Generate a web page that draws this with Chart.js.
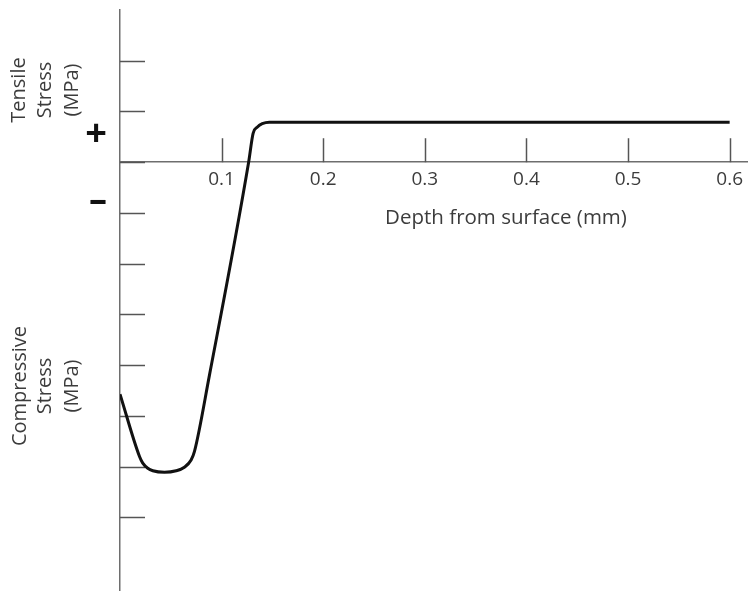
<!DOCTYPE html>
<html>
<head>
<meta charset="utf-8">
<script src="https://cdn.jsdelivr.net/npm/chart.js@4"></script>
<style>
  html, body { margin: 0; padding: 0; background: #fff; }
  #wrap { width: 749px; height: 592px; }
</style>
</head>
<body>
<div id="wrap"><canvas id="stressChart" width="749" height="592"></canvas></div>
<script>
// residual stress profile, depth in mm, stress in axis divisions
const depth = [0, 0.0192, 0.0224, 0.0273, 0.0323, 0.0438, 0.0553, 0.0634, 0.0700, 0.0733, 0.088, 0.1266, 0.131, 0.135, 0.140, 0.147, 0.60];
const stress = [-4.57, -5.80, -5.93, -6.03, -6.08, -6.11, -6.08, -6.01, -5.87, -5.70, -4.20, 0, 0.57, 0.69, 0.76, 0.79, 0.79];

const xTicks = [0.1, 0.2, 0.3, 0.4, 0.5, 0.6];
const yTicks = [2, 1, 0, -1, -2, -3, -4, -5, -6, -7];

const xTitle = 'Depth from surface (mm)';
const tensileTitle = ['Tensile', 'Stress', '(MPa)'];
const compressTitle = ['Compressive', 'Stress', '(MPa)'];

const FONT = '"Open Sans", "Noto Sans", sans-serif';
const TEXT = '#3c3c3c';
const AXIS = '#6e6e6e';

function rotatedLines(ctx, lines, xs, cy) {
    lines.forEach((t, i) => {
        ctx.save();
        ctx.translate(xs[i], cy);
        ctx.rotate(-Math.PI / 2);
        ctx.fillText(t, 0, 0);
        ctx.restore();
    });
}

// tick marks pointing into the plot, side titles and the +/- signs
const tickMarks = {
    id: 'tickMarks',
    beforeDatasetsDraw(chart) {
        const ctx = chart.ctx;
        const xs = chart.scales.x, ys = chart.scales.y;
        const x0 = xs.getPixelForValue(0);
        const y0 = ys.getPixelForValue(0);
        ctx.save();
        ctx.lineWidth = 1.5;
        ctx.strokeStyle = '#555';
        yTicks.forEach(v => {
            const y = Math.round(ys.getPixelForValue(v)) + 0.5;
            ctx.beginPath();
            ctx.moveTo(x0, y);
            ctx.lineTo(x0 + 25, y);
            ctx.stroke();
        });
        xTicks.forEach(v => {
            const x = Math.round(xs.getPixelForValue(v)) + 0.5;
            ctx.beginPath();
            ctx.moveTo(x, y0);
            ctx.lineTo(x, y0 - 24);
            ctx.stroke();
        });
        ctx.restore();
    },
    afterDraw(chart) {
        const ctx = chart.ctx;
        const y0 = chart.scales.y.getPixelForValue(0);
        ctx.save();
        ctx.fillStyle = TEXT;
        ctx.textAlign = 'center';
        ctx.textBaseline = 'middle';
        ctx.font = '20.5px ' + FONT;
        ctx.fillText(xTitle, 506, 218);
        ctx.font = '20px ' + FONT;
        rotatedLines(ctx, tensileTitle, [19, 45, 72], 90);
        rotatedLines(ctx, compressTitle, [20, 45, 72], 386);

        ctx.fillStyle = '#111';
        ctx.font = 'bold 38px ' + FONT;
        ctx.fillText('+', 96, y0 - 27);
        ctx.font = 'bold 36px ' + FONT;
        ctx.fillText('\u2013', 98, y0 + 40);
        ctx.restore();
    }
};

const config = {
    type: 'line',
    data: {
        datasets: [{
            data: depth.map((d, i) => ({x: d, y: stress[i]})),
            borderColor: '#111',
            borderWidth: 3,
            pointRadius: 0,
            cubicInterpolationMode: 'monotone',
            fill: false
        }]
    },
    options: {
        responsive: false,
        devicePixelRatio: 1,
        animation: false,
        layout: {
            padding: {left: 120, right: 0, top: 10, bottom: 2}
        },
        plugins: {
            legend: {display: false},
            tooltip: {enabled: false}
        },
        scales: {
            x: {
                type: 'linear',
                min: 0,
                max: 0.618,
                position: {y: 0},
                afterBuildTicks: s => { s.ticks = xTicks.map(v => ({value: v})); },
                ticks: {
                    padding: 6,
                    color: TEXT,
                    font: {family: FONT, size: 19},
                    callback: v => v.toFixed(1),
                    maxRotation: 0
                },
                grid: {display: false, drawTicks: false},
                border: {display: true, color: AXIS, width: 1.5}
            },
            y: {
                type: 'linear',
                min: -8.43,
                max: 3,
                ticks: {display: false},
                grid: {display: false, drawTicks: false},
                border: {display: true, color: AXIS, width: 1.5}
            }
        }
    },
    plugins: [tickMarks]
};

const stressChart = new Chart(document.getElementById('stressChart'), config);
</script>
</body>
</html>
